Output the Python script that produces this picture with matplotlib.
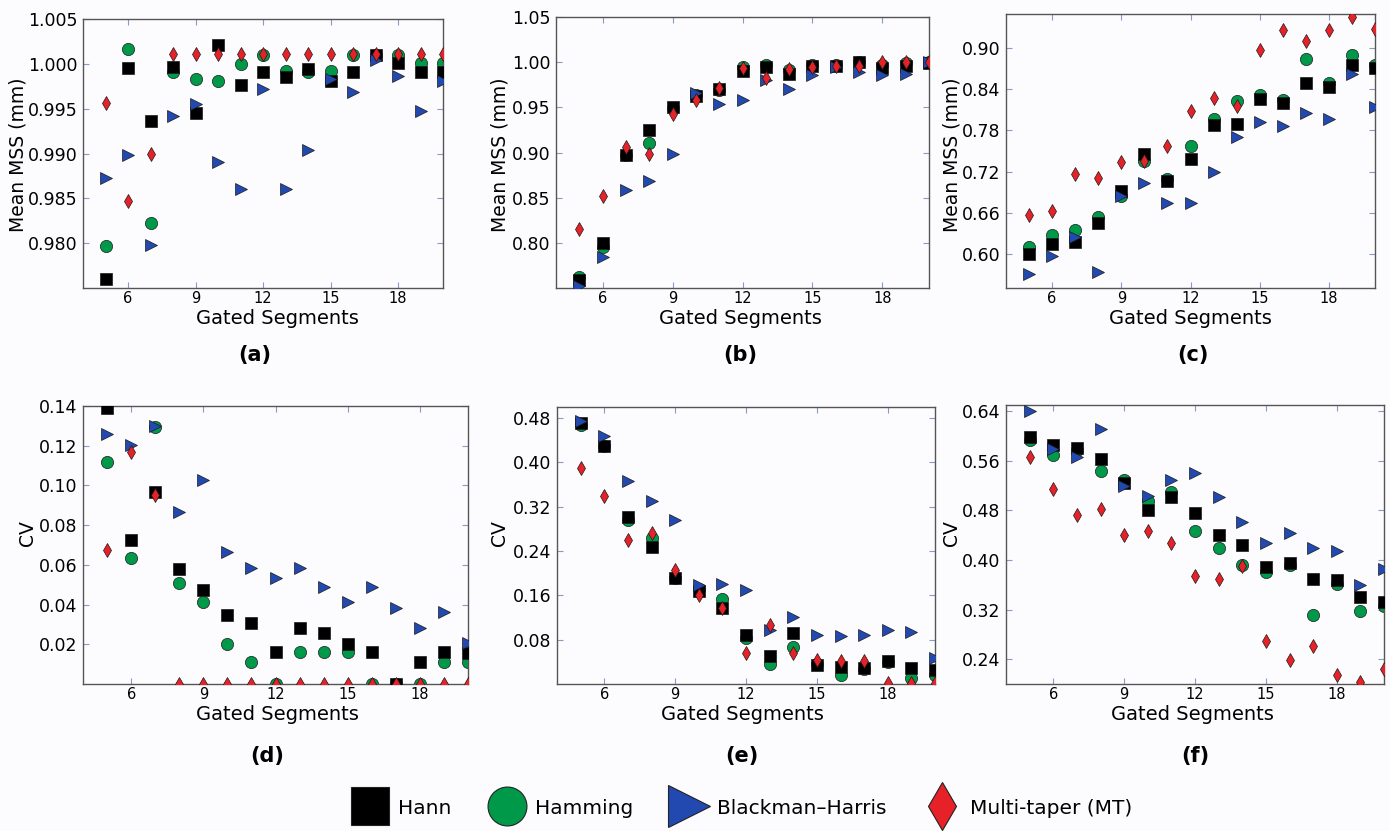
import matplotlib
matplotlib.use('Agg')
import matplotlib.pyplot as plt
from matplotlib.lines import Line2D
from matplotlib.ticker import FormatStrFormatter, FixedLocator

segments = list(range(5, 21))
series_names = ['Hann', 'Hamming', 'Blackman\u2013Harris', 'Multi-taper (MT)']
panel_letters = ['(a)', '(b)', '(c)', '(d)', '(e)', '(f)']
xticks = [6, 9, 12, 15, 18]

# (a) Mean MSS
a_hann = [0.9760, 0.9995, 0.9936, 0.9997, 0.9945, 1.0021, 0.9976, 0.9991, 0.9985, 0.9994, 0.9981, 0.9991, 1.0010, 1.0001, 0.9991, 0.9991]
a_hamming = [0.9797, 1.0016, 0.9822, 0.9991, 0.9983, 0.9981, 1.0000, 1.0010, 0.9992, 0.9991, 0.9992, 1.0010, 1.0010, 1.0010, 1.0001, 1.0001]
a_bh = [0.9873, 0.9898, 0.9798, 0.9942, 0.9955, 0.9891, 0.9860, 0.9972, 0.9860, 0.9904, 0.9983, 0.9969, 1.0004, 0.9986, 0.9947, 0.9981]
a_mt = [0.9956, 0.9847, 0.9900, 1.0011, 1.0011, 1.0011, 1.0011, 1.0011, 1.0011, 1.0011, 1.0011, 1.0011, 1.0011, 1.0011, 1.0011, 1.0011]

# (b) Mean MSS
b_hann = [0.759, 0.800, 0.897, 0.925, 0.950, 0.963, 0.970, 0.990, 0.995, 0.987, 0.996, 0.996, 1.000, 0.993, 0.996, 0.999]
b_hamming = [0.762, 0.795, 0.897, 0.910, 0.949, 0.964, 0.969, 0.995, 0.997, 0.991, 0.997, 0.997, 1.000, 0.997, 0.999, 1.000]
b_bh = [0.752, 0.784, 0.859, 0.869, 0.898, 0.966, 0.954, 0.958, 0.980, 0.970, 0.986, 0.995, 0.989, 0.986, 0.987, 1.000]
b_mt = [0.815, 0.852, 0.906, 0.898, 0.943, 0.958, 0.971, 0.993, 0.982, 0.992, 0.995, 0.996, 0.996, 1.000, 1.000, 1.000]

# (c) Mean MSS
c_hann = [0.600, 0.614, 0.617, 0.645, 0.692, 0.745, 0.706, 0.739, 0.788, 0.789, 0.826, 0.820, 0.849, 0.843, 0.876, 0.871]
c_hamming = [0.610, 0.628, 0.634, 0.653, 0.685, 0.736, 0.709, 0.758, 0.797, 0.823, 0.832, 0.824, 0.884, 0.850, 0.890, 0.876]
c_bh = [0.570, 0.596, 0.624, 0.573, 0.685, 0.703, 0.674, 0.674, 0.719, 0.771, 0.793, 0.786, 0.806, 0.796, 0.862, 0.814]
c_mt = [0.656, 0.662, 0.717, 0.711, 0.734, 0.736, 0.757, 0.808, 0.828, 0.816, 0.897, 0.927, 0.911, 0.927, 0.945, 0.928]

# (d) CV
d_hann = [0.1388, 0.0725, 0.0969, 0.0580, 0.0474, 0.0348, 0.0306, 0.0163, 0.0281, 0.0259, 0.0200, 0.0163, 0.0000, 0.0113, 0.0163, 0.0155]
d_hamming = [0.1120, 0.0633, 0.1296, 0.0507, 0.0415, 0.0200, 0.0113, 0.0000, 0.0163, 0.0163, 0.0163, 0.0000, 0.0000, 0.0000, 0.0113, 0.0113]
d_bh = [0.1257, 0.1204, 0.1300, 0.0868, 0.1027, 0.0667, 0.0583, 0.0532, 0.0583, 0.0487, 0.0415, 0.0490, 0.0385, 0.0281, 0.0365, 0.0205]
d_mt = [0.0675, 0.1170, 0.0952, 0.0, 0.0, 0.0, 0.0, 0.0, 0.0, 0.0, 0.0, 0.0, 0.0, 0.0, 0.0, 0.0]

# (e) CV
e_hann = [0.472, 0.430, 0.302, 0.248, 0.192, 0.168, 0.138, 0.089, 0.050, 0.092, 0.035, 0.031, 0.029, 0.042, 0.029, 0.025]
e_hamming = [0.468, 0.430, 0.296, 0.264, 0.191, 0.172, 0.154, 0.083, 0.037, 0.067, 0.037, 0.017, 0.027, 0.040, 0.011, 0.017]
e_bh = [0.474, 0.448, 0.366, 0.330, 0.296, 0.178, 0.181, 0.170, 0.097, 0.121, 0.089, 0.086, 0.089, 0.098, 0.094, 0.047]
e_mt = [0.390, 0.339, 0.260, 0.273, 0.206, 0.161, 0.137, 0.056, 0.106, 0.056, 0.044, 0.042, 0.042, 0.002, 0.002, 0.002]

# (f) CV
f_hann = [0.598, 0.586, 0.580, 0.563, 0.525, 0.480, 0.501, 0.476, 0.441, 0.425, 0.389, 0.395, 0.369, 0.367, 0.340, 0.332]
f_hamming = [0.593, 0.569, 0.577, 0.544, 0.529, 0.495, 0.509, 0.447, 0.419, 0.392, 0.381, 0.392, 0.312, 0.362, 0.317, 0.326]
f_bh = [0.640, 0.579, 0.566, 0.612, 0.519, 0.503, 0.529, 0.540, 0.502, 0.461, 0.427, 0.444, 0.419, 0.415, 0.359, 0.386]
f_mt = [0.566, 0.514, 0.472, 0.483, 0.441, 0.447, 0.428, 0.374, 0.370, 0.391, 0.269, 0.238, 0.262, 0.215, 0.204, 0.224]

# y-axis settings per panel
a_yticks = [0.980, 0.985, 0.990, 0.995, 1.000, 1.005]
b_yticks = [0.80, 0.85, 0.90, 0.95, 1.00, 1.05]
c_yticks = [0.60, 0.66, 0.72, 0.78, 0.84, 0.90]
d_yticks = [0.02, 0.04, 0.06, 0.08, 0.10, 0.12, 0.14]
e_yticks = [0.08, 0.16, 0.24, 0.32, 0.40, 0.48]
f_yticks = [0.24, 0.32, 0.40, 0.48, 0.56, 0.64]

W, H = 1390, 831
fig = plt.figure(figsize=(W / 100, H / 100), dpi=100, facecolor='#fcfcfe')

# styles
colors = ['#000000', '#00994a', '#2149b0', '#e62228']
markers = ['s', 'o', '>', 'd']
msizes = [8.5, 8.8, 9.0, 7.5]
zorders = [3, 2, 4, 5]

panels = [
    dict(box=(83, 443, 19, 288), data=[a_hann, a_hamming, a_bh, a_mt], ylim=(0.975, 1.005), yticks=a_yticks,
         fmt='%.3f', ylabel='Mean MSS (mm)', ylab=(18, 155), xlab=(277, 318), letter=(255, 355)),
    dict(box=(556, 929, 17, 288), data=[b_hann, b_hamming, b_bh, b_mt], ylim=(0.75, 1.05), yticks=b_yticks,
         fmt='%.2f', ylabel='Mean MSS (mm)', ylab=(500, 155), xlab=(740, 318), letter=(740, 355)),
    dict(box=(1006, 1375, 14, 288), data=[c_hann, c_hamming, c_bh, c_mt], ylim=(0.55, 0.95), yticks=c_yticks,
         fmt='%.2f', ylabel='Mean MSS (mm)', ylab=(952, 155), xlab=(1190, 318), letter=(1193, 355)),
    dict(box=(83, 468, 406, 684), data=[d_hann, d_hamming, d_bh, d_mt], ylim=(0.0, 0.14), yticks=d_yticks,
         fmt='%.2f', ylabel='CV', ylab=(28, 533), xlab=(277, 714), letter=(267, 756)),
    dict(box=(557, 935, 407, 684), data=[e_hann, e_hamming, e_bh, e_mt], ylim=(0.0, 0.50), yticks=e_yticks,
         fmt='%.2f', ylabel='CV', ylab=(500, 533), xlab=(742, 714), letter=(742, 756)),
    dict(box=(1006, 1384, 405, 684), data=[f_hann, f_hamming, f_bh, f_mt], ylim=(0.20, 0.65), yticks=f_yticks,
         fmt='%.2f', ylabel='CV', ylab=(952, 533), xlab=(1192, 714), letter=(1195, 756)),
]

for p, letter in zip(panels, panel_letters):
    L, R, T, B = p['box']
    ax = fig.add_axes([L / W, 1 - B / H, (R - L) / W, (B - T) / H])
    ax.set_facecolor('#fcfcfe')
    for vals, c, m, ms, z in zip(p['data'], colors, markers, msizes, zorders):
        ax.plot(segments, vals, linestyle='none', marker=m, markersize=ms, color=c,
                markeredgecolor='#1a1a1a', markeredgewidth=0.5, zorder=z)
    ax.set_xlim(4, 20)
    ax.set_ylim(*p['ylim'])
    ax.xaxis.set_major_locator(FixedLocator(xticks))
    ax.yaxis.set_major_locator(FixedLocator(p['yticks']))
    ax.yaxis.set_major_formatter(FormatStrFormatter(p['fmt']))
    ax.tick_params(direction='in', top=True, right=True, length=4, width=0.8,
                   color='#8a9bc0')
    ax.tick_params(axis='y', labelsize=12.5, pad=4)
    ax.tick_params(axis='x', labelsize=10.5, pad=2.5)
    for s in ax.spines.values():
        s.set_color('#555555')
        s.set_linewidth(1.0)
    ax.set_xlabel('Gated Segments', fontsize=14, va='center', ha='center')
    ax.set_ylabel(p['ylabel'], fontsize=13.5, va='center', ha='center')
    # place labels at measured positions
    xl = (p['xlab'][0] - L) / (R - L)
    yl = (B - p['xlab'][1]) / (B - T)
    ax.xaxis.set_label_coords(xl, yl)
    xl = (p['ylab'][0] - L) / (R - L)
    yl = (B - p['ylab'][1]) / (B - T)
    ax.yaxis.set_label_coords(xl, yl)
    fig.text(p['letter'][0] / W, 1 - p['letter'][1] / H, letter, fontsize=15,
             fontweight='bold', ha='center', va='center')

handles = [Line2D([], [], linestyle='none', marker=m, color=c, markersize=s,
                  markeredgecolor='#222222', markeredgewidth=0.8)
           for m, c, s in zip(markers, colors, [28, 28, 30, 24])]
fig.legend(handles, series_names, loc='center', bbox_to_anchor=(741 / W, 1 - 808 / H),
           ncol=4, frameon=False, fontsize=14.5, handlelength=2.0, handletextpad=0.4,
           columnspacing=1.75, borderpad=0.0)

fig.savefig('out.png', dpi=100, facecolor=fig.get_facecolor())
